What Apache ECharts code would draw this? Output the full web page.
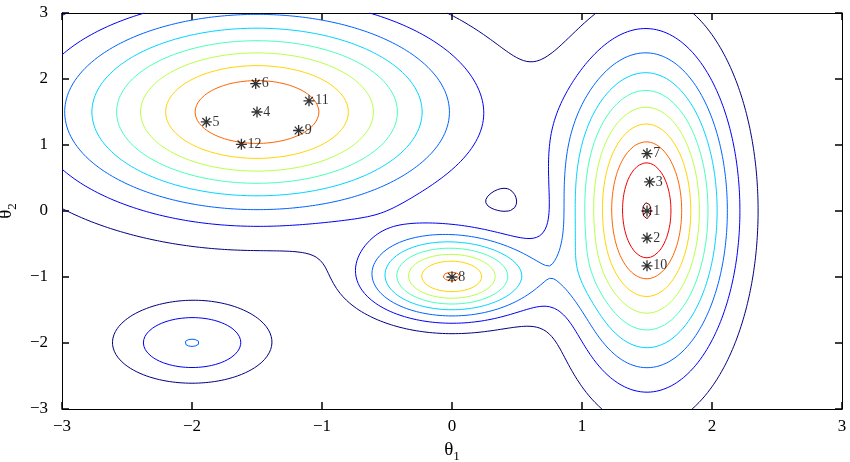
<!DOCTYPE html>
<html><head><meta charset="utf-8">
<script src="https://cdn.jsdelivr.net/npm/echarts@6/dist/echarts.min.js"></script>
<style>html,body{margin:0;padding:0;background:#fff}#c{width:850px;height:462px}</style>
</head><body><div id="c"></div>
<script>
// Gaussian mixture components: peak height, mean, std dev
const compMeanX = [-1.5, 1.5, 0.0, -2.0];
const compMeanY = [1.5, 0.0, -1.0, -2.0];
const compSdX   = [1.0, 0.398, 0.42, 0.41];
const compSdY   = [1.0, 1.53, 0.42, 0.41];
const compPeak  = [8.96, 10.0, 7.96, 3.01];

const contourLevels = [1, 2, 3, 4, 5, 6, 7, 8, 9, 10];
const levelColors = ['#000080','#0000F1','#0063FF','#00D4FF','#47FFB8','#B8FF47','#FFD400','#FF6300','#F10000','#800000'];

const sampleX = [1.5, 1.5, 1.52, -1.5, -1.89, -1.51, 1.5, 0.0, -1.18, 1.5, -1.1, -1.62];
const sampleY = [0.0, -0.41, 0.44, 1.5, 1.35, 1.93, 0.87, -1.0, 1.22, -0.83, 1.67, 1.01];
const sampleLabels = ['1','2','3','4','5','6','7','8','9','10','11','12'];

const xTicks = [-3, -2, -1, 0, 1, 2, 3];
const yTicks = [-3, -2, -1, 0, 1, 2, 3];

// ---- density field on a grid ----
const N = 241, lo = -3, hi = 3, step = (hi - lo) / (N - 1);
const gx = [], gy = [];
for (let i = 0; i < N; i++) { gx.push(lo + i * step); gy.push(lo + i * step); }
function density(x, y) {
  let s = 0;
  for (let k = 0; k < compPeak.length; k++) {
    const dx = (x - compMeanX[k]) / compSdX[k], dy = (y - compMeanY[k]) / compSdY[k];
    s += compPeak[k] * Math.exp(-0.5 * (dx * dx + dy * dy));
  }
  return s;
}
const Z = [];
for (let j = 0; j < N; j++) { const row = []; for (let i = 0; i < N; i++) row.push(density(gx[i], gy[j])); Z.push(row); }

function contourLines(level) {
  const pts = {}, adj = {};
  const link = (a, b) => { (adj[a] = adj[a] || []).push(b); (adj[b] = adj[b] || []).push(a); };
  for (let j = 0; j < N - 1; j++) for (let i = 0; i < N - 1; i++) {
    const v00 = Z[j][i], v10 = Z[j][i+1], v11 = Z[j+1][i+1], v01 = Z[j+1][i];
    const e = {};
    if ((v00 > level) !== (v10 > level)) { const id = 'h' + i + '_' + j; const t = (level - v00) / (v10 - v00); pts[id] = [gx[i] + t * step, gy[j]]; e.b = id; }
    if ((v10 > level) !== (v11 > level)) { const id = 'v' + (i+1) + '_' + j; const t = (level - v10) / (v11 - v10); pts[id] = [gx[i+1], gy[j] + t * step]; e.r = id; }
    if ((v01 > level) !== (v11 > level)) { const id = 'h' + i + '_' + (j+1); const t = (level - v01) / (v11 - v01); pts[id] = [gx[i] + t * step, gy[j+1]]; e.t = id; }
    if ((v00 > level) !== (v01 > level)) { const id = 'v' + i + '_' + j; const t = (level - v00) / (v01 - v00); pts[id] = [gx[i], gy[j] + t * step]; e.l = id; }
    const ks = Object.keys(e);
    if (ks.length === 2) link(e[ks[0]], e[ks[1]]);
    else if (ks.length === 4) {
      const c = (v00 + v10 + v11 + v01) / 4;
      if ((c > level) === (v00 > level)) { link(e.b, e.r); link(e.t, e.l); }
      else { link(e.b, e.l); link(e.r, e.t); }
    }
  }
  const used = new Set(), lines = [];
  const trace = (start) => {
    const line = [pts[start]]; used.add(start); let cur = start;
    while (true) {
      const nb = (adj[cur] || []).filter(n => !used.has(n));
      if (!nb.length) break;
      cur = nb[0]; used.add(cur); line.push(pts[cur]);
    }
    if ((adj[cur] || []).includes(start) && line.length > 2) line.push(pts[start]);
    return line;
  };
  Object.keys(adj).forEach(k => { if (!used.has(k) && adj[k].length === 1) lines.push(trace(k)); });
  Object.keys(adj).forEach(k => { if (!used.has(k)) lines.push(trace(k)); });
  return lines;
}

const series = [];
contourLevels.forEach((lv, idx) => {
  contourLines(lv).forEach(line => {
    series.push({ type: 'line', data: line, showSymbol: false, symbol: 'none', silent: true, animation: false,
      lineStyle: { color: levelColors[idx], width: 1 }, z: 2 });
  });
});
series.push({
  type: 'scatter', data: sampleX.map((x, i) => [x, sampleY[i], sampleLabels[i]]),
  symbol: 'path://M5,0L5,10M0,5L10,5M1.46,1.46L8.54,8.54M1.46,8.54L8.54,1.46', symbolSize: 11,
  itemStyle: { color: 'rgba(0,0,0,0)', borderColor: '#000', borderWidth: 1.3 },
  label: { show: true, position: 'right', distance: 0, formatter: p => p.data[2], color: '#000',
    fontFamily: 'Liberation Serif', fontSize: 14 },
  z: 5, animation: false
});

const fmt = v => String(v).replace('-', '\u2212');
const serif = 'Liberation Serif';
function axisBase() {
  return { type: 'value', min: -3, max: 3, interval: 1, splitLine: { show: false },
    axisLine: { show: true, onZero: false, lineStyle: { color: '#000', width: 1 } },
    axisTick: { show: true, inside: true, length: 7, lineStyle: { color: '#000', width: 1.5 } } };
}
const chart = echarts.init(document.getElementById('c'), null, { renderer: 'canvas' });
chart.setOption({
  backgroundColor: '#fff',
  animation: false,
  grid: { left: 62, top: 13, width: 780, height: 396, show: false, containLabel: false, outerBoundsMode: 'none' },
  xAxis: [
    Object.assign(axisBase(), { position: 'bottom',
      axisLabel: { formatter: fmt, color: '#000', fontFamily: serif, fontSize: 17, margin: 9 },
      name: '{t|θ}{s|1}', nameLocation: 'middle', nameGap: 28,
      nameTextStyle: { rich: { t: { fontFamily: serif, fontSize: 19, color: '#000' }, s: { fontFamily: serif, fontSize: 13, color: '#000', padding: [13, 0, 0, 0] } } } }),
    Object.assign(axisBase(), { position: 'top', axisLabel: { show: false } })
  ],
  yAxis: [
    Object.assign(axisBase(), { position: 'left',
      axisLabel: { formatter: fmt, color: '#000', fontFamily: serif, fontSize: 17, margin: 14 },
      name: '{t|θ}{s|2}', nameLocation: 'middle', nameGap: 36, nameRotate: 90,
      nameTextStyle: { rich: { t: { fontFamily: serif, fontSize: 19, color: '#000' }, s: { fontFamily: serif, fontSize: 13, color: '#000', padding: [13, 0, 0, 0] } } } }),
    Object.assign(axisBase(), { position: 'right', axisLabel: { show: false } })
  ],
  series: series
});
</script></body></html>
